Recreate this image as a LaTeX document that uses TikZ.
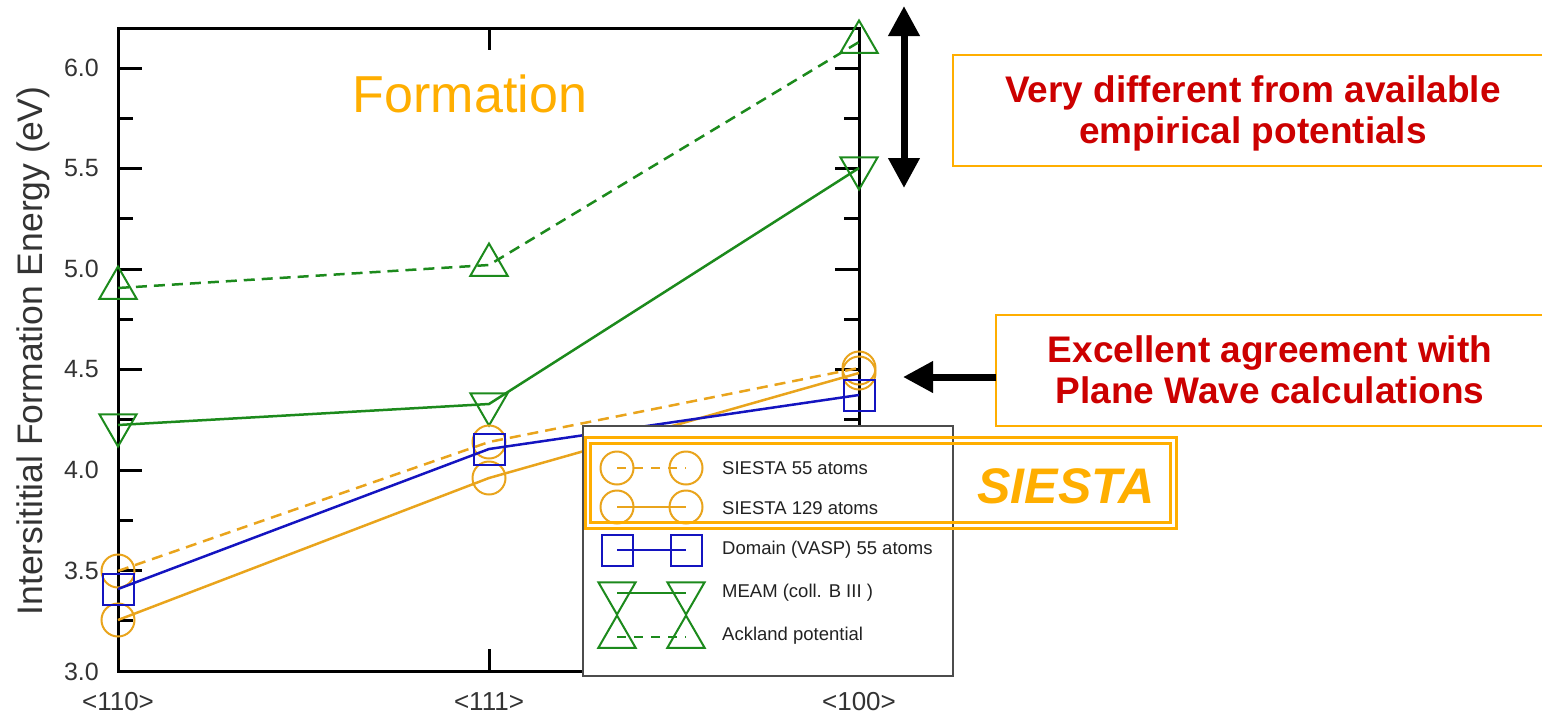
\documentclass[tikz,border=0pt]{standalone}
\usepackage{fontspec}
\setmainfont{Liberation Sans}
\usetikzlibrary{arrows.meta,shapes.geometric}
\definecolor{dorange}{HTML}{E9A41C}
\definecolor{borange}{HTML}{FFAE00}
\definecolor{mgreen}{HTML}{1C8A1C}
\definecolor{mblue}{HTML}{1414C0}
\definecolor{tred}{HTML}{CC0000}
\definecolor{ftext}{HTML}{222222}
\definecolor{tlab}{HTML}{333333}
\tikzset{
  mk/.style={draw, inner sep=0pt, outer sep=0pt, line width=2pt, fill=none},
  circmk/.style={mk, circle, minimum size=33pt},
  sqmk/.style={mk, rectangle, minimum size=31pt},
  upmk/.style={mk, regular polygon, regular polygon sides=3, minimum size=43pt},
  dnmk/.style={upmk, shape border rotate=180},
  dl/.style={line width=2.5pt},
  dsh/.style={dl, dash pattern=on 11pt off 7pt},
  ldl/.style={line width=2pt},
  ldsh/.style={ldl, dash pattern=on 9pt off 8pt},
  ticklab/.style={text=tlab, font=\fontsize{25}{30}\selectfont, inner sep=0pt, anchor=east},
  xlab/.style={text=tlab, font=\fontsize{26}{30}\selectfont, inner sep=0pt},
  legtext/.style={text=ftext, font=\fontsize{18.5}{22}\selectfont, anchor=west, inner sep=0pt},
  redtext/.style={text=tred, font=\fontsize{37}{41}\selectfont\bfseries, anchor=base, inner sep=0pt},
  callbox/.style={draw=borange, line width=2pt},
  bigarrow/.style={line width=7pt},
}
\begin{document}
\begin{tikzpicture}[x=1pt,y=-1pt]
\useasboundingbox (0,0) rectangle (1542,716);
% ---- axes frame and ticks
\draw[line width=3pt] (118,28) rectangle (859,671);
\foreach \yy in {570.5,470,369.5,269,168.5,68} {
  \draw[line width=3pt] (118,\yy) -- (142,\yy);
  \draw[line width=3pt] (859,\yy) -- (835,\yy);
}
\foreach \yy in {620.75,520.25,419.75,319.25,218.75,118.25} {
  \draw[line width=3pt] (118,\yy) -- (133,\yy);
  \draw[line width=3pt] (859,\yy) -- (844,\yy);
}
\draw[line width=3pt] (489,671) -- (489,649);
\draw[line width=3pt] (489,28) -- (489,50);
% ---- tick labels
\node[ticklab] (t30) at (99,672) {3.0};
\node[ticklab] (t35) at (99,570.5) {3.5};
\node[ticklab] (t40) at (99,470) {4.0};
\node[ticklab] (t45) at (99,369.5) {4.5};
\node[ticklab] (t50) at (99,269) {5.0};
\node[ticklab] (t55) at (99,168.5) {5.5};
\node[ticklab] (t60) at (99,68) {6.0};
\node[xlab] (x110) at (118,702) {<110>};
\node[xlab] (x111) at (489,702) {<111>};
\node[xlab] (x100) at (859,702) {<100>};
\node[rotate=90, anchor=base, text=tlab, inner sep=0pt, font=\fontsize{35.5}{40}\selectfont] (ylab) at (42,351) {Intersititial Formation Energy (eV)};
\node[anchor=base, text=borange, inner sep=0pt, font=\fontsize{52}{60}\selectfont] (form) at (470,112) {Formation};
% ---- data markers
\node[upmk, draw=mgreen] (a1) at (118,288) {};
\node[upmk, draw=mgreen] (a2) at (489,265) {};
\node[upmk, draw=mgreen] (a3) at (859,42) {};
\node[dnmk, draw=mgreen] (m1) at (118,425) {};
\node[dnmk, draw=mgreen] (m2) at (489,404) {};
\node[dnmk, draw=mgreen] (m3) at (859,168) {};
\node[circmk, draw=dorange] (p1) at (118,571) {};
\node[circmk, draw=dorange] (p2) at (489,442) {};
\node[circmk, draw=dorange] (p3) at (859,368) {};
\node[circmk, draw=dorange] (q1) at (118,620) {};
\node[circmk, draw=dorange] (q2) at (489,478) {};
\node[circmk, draw=dorange] (q3) at (859,373) {};
\node[sqmk, draw=mblue] (v1) at (118,589) {};
\node[sqmk, draw=mblue] (v2) at (489,449) {};
\node[sqmk, draw=mblue] (v3) at (859,395) {};
% ---- data lines
\draw[dsh, mgreen] (a1.center) -- (a2.center) -- (a3.center);
\draw[dl, mgreen] (m1.center) -- (m2.center) -- (m3.center);
\draw[dsh, dorange] (p1.center) -- (p2.center) -- (p3.center);
\draw[dl, dorange] (q1.center) -- (q2.center) -- (q3.center);
\draw[dl, mblue] (v1.center) -- (v2.center) -- (v3.center);
% ---- legend
\node[draw=black!70, fill=white, line width=1.5pt, minimum width=370pt, minimum height=250pt, anchor=north west, inner sep=0pt] (leg) at (582,425) {};
\node[circmk, draw=dorange] (lp1) at (617,468) {};
\node[circmk, draw=dorange] (lp2) at (686,468) {};
\draw[ldsh, dorange] (lp1.center) -- (lp2.center);
\node[legtext] (lt1) at (722,468) {SIESTA 55 atoms};
\node[circmk, draw=dorange] (lq1) at (617,507) {};
\node[circmk, draw=dorange] (lq2) at (686,507) {};
\draw[ldl, dorange] (lq1.center) -- (lq2.center);
\node[legtext] (lt2) at (722,508) {SIESTA 129 atoms};
\node[sqmk, draw=mblue] (lv1) at (617,550) {};
\node[sqmk, draw=mblue] (lv2) at (686,550) {};
\draw[ldl, mblue] (lv1.center) -- (lv2.center);
\node[legtext] (lt3) at (722,550) {Domain (VASP) 55 atoms};
\node[dnmk, draw=mgreen] (lm1) at (617,593) {};
\node[dnmk, draw=mgreen] (lm2) at (686,593) {};
\draw[ldl, mgreen] (lm1.center) -- (lm2.center);
\node[legtext] (lt4) at (722,593) {MEAM (coll. B III )};
\node[upmk, draw=mgreen] (la1) at (617,637) {};
\node[upmk, draw=mgreen] (la2) at (686,637) {};
\draw[ldsh, mgreen] (la1.center) -- (la2.center);
\node[legtext] (lt5) at (722,636) {Ackland potential};
% ---- SIESTA double box
\draw[borange, line width=3pt] (585,437) rectangle (1176,528);
\draw[borange, line width=3pt] (590.5,443) rectangle (1170,522);
\node[anchor=base, text=borange, inner sep=0pt, font=\fontsize{50}{54}\selectfont\bfseries\itshape] (siesta) at (1066,503) {SIESTA};
% ---- call-out boxes
\draw[callbox] (1545,55) -- (953,55) -- (953,166) -- (1545,166);
\node[redtext] (r1) at (1253,102) {Very different from available};
\node[redtext] (r2) at (1253,143) {empirical potentials};
\draw[callbox] (1545,315) -- (996,315) -- (996,426) -- (1545,426);
\node[redtext] (r3) at (1270,362) {Excellent agreement with};
\node[redtext] (r4) at (1270,403) {Plane Wave calculations};
% ---- arrows
\coordinate (dtop) at (904,6);
\coordinate (dbot) at (904,188);
\draw[bigarrow, {Triangle[length=30pt,width=30pt]}-{Triangle[length=30pt,width=30pt]}] (dtop) -- (dbot);
\coordinate (b2w) at (996,377);
\coordinate (atip) at (903,377);
\draw[bigarrow, -{Triangle[length=30pt,width=30pt]}] (b2w) -- (atip);
\end{tikzpicture}
\end{document}
